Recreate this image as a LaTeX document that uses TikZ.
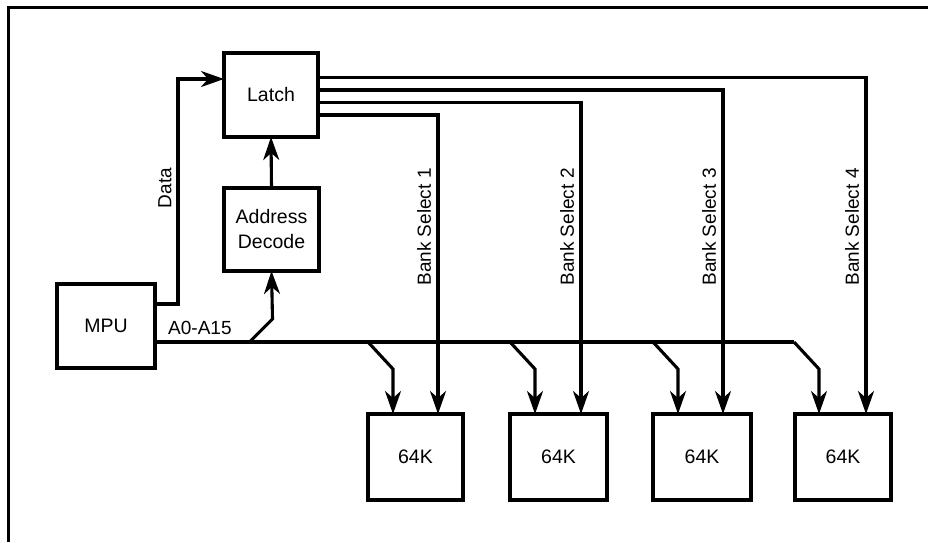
\documentclass[tikz,border=0pt]{standalone}
\usepackage{fontspec}
\setmainfont{Liberation Sans}
\usetikzlibrary{arrows.meta}
\tikzset{
  box/.style={draw, line width=3.3pt, inner sep=0pt, outer sep=0pt, align=center,
    font=\fontsize{19.5}{25}\selectfont},
  wire/.style={line width=3.1pt},
  arr/.style={wire, -{Stealth[length=23pt,width=16pt,inset=7pt]}},
  lbl/.style={font=\fontsize{19}{22}\selectfont, inner sep=0pt}
}
\begin{document}
\begin{tikzpicture}[x=1pt,y=-1pt]
\useasboundingbox (0,0) rectangle (928,542);
% frame
\draw[line width=3pt] (8,542) -- (8,7) -- (928,7);
% blocks
\node[box, minimum width=94pt, minimum height=84pt] (latch) at (271,95) {Latch};
\node[box, minimum width=95pt, minimum height=83pt] (addr) at (271.5,229.5) {Address\\Decode};
\node[box, minimum width=98pt, minimum height=84pt] (mpu) at (106,326) {MPU};
\node[box, minimum width=95pt, minimum height=86pt] (m1) at (415.5,457) {64K};
\node[box, minimum width=97pt, minimum height=86pt] (m2) at (558.5,457) {64K};
\node[box, minimum width=98pt, minimum height=86pt] (m3) at (702,457) {64K};
\node[box, minimum width=96pt, minimum height=86pt] (m4) at (843,457) {64K};
% data
\draw[arr] ([yshift=22pt]mpu.east) -- ++(23,0) coordinate (dbend) |- ([yshift=16pt]latch.west);
\node[lbl, rotate=90] (datalbl) at (165,188) {Data};
% address decode to latch
\draw[arr] (addr.north) -- (latch.south);
% address bus
\path ([yshift=-16pt]mpu.east) coordinate (bus);
\coordinate (busend) at ([xshift=-1pt]m4.north west |- bus);
\draw[wire] (bus) -- (busend);
\draw[arr] (busend) -- ++(25,27) -- ([xshift=24pt]m4.north west);
\draw[arr] (m1.north west |- bus) -- ++(25,27) -- ([xshift=25pt]m1.north west);
\draw[arr] (m2.north west |- bus) -- ++(25,27) -- ([xshift=25pt]m2.north west);
\draw[arr] (m3.north west |- bus) -- ++(25,27) -- ([xshift=25pt]m3.north west);
\draw[arr] (addr.south |- bus) ++(-22,0) coordinate (abr) -- ++(23,-23) -- (addr.south);
\node[lbl, anchor=west] (buslbl) at (168,328) {A0-A15};
% bank selects
\draw[arr] ([yshift=-20pt]latch.east) -| ([xshift=22.5pt]m1.north);
\draw[arr] ([yshift=-7.5pt]latch.east) -| ([xshift=22.5pt]m2.north);
\draw[arr] ([yshift=5pt]latch.east) -| ([xshift=21pt]m3.north);
\draw[arr] ([yshift=17.5pt]latch.east) -| ([xshift=23pt]m4.north);
\node[lbl, rotate=90] (bs1) at (424,227) {Bank Select 1};
\node[lbl, rotate=90] (bs2) at (567,227) {Bank Select 2};
\node[lbl, rotate=90] (bs3) at (709,227) {Bank Select 3};
\node[lbl, rotate=90] (bs4) at (852,227) {Bank Select 4};
\end{tikzpicture}
\end{document}
